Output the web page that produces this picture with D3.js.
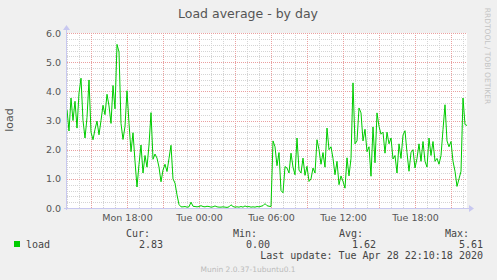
<!DOCTYPE html>
<html>
<head>
<meta charset="utf-8">
<script src="https://cdn.jsdelivr.net/npm/d3@7"></script>
<style>
  body { margin: 0; background: #f0f0f0; }
  svg { display: block; }
  text { font-family: "DejaVu Sans", sans-serif; }
  .mono { font-family: "DejaVu Sans Mono", monospace; }
</style>
</head>
<body>
<div id="viz"></div>
<script>
// ===== data (load average, one value every 10 minutes) =====
const startTime = new Date(2020, 3, 27, 13, 0);
const stepMinutes = 10;
const loadValues = [
  3.37, 2.64, 3.77, 3.0, 3.66, 2.74, 3.94, 4.45, 3.0, 2.4,
  3.1, 4.39, 2.6, 2.34, 2.7, 2.98, 2.51, 3.0, 3.52, 3.2,
  3.9, 3.5, 2.9, 4.2, 3.4, 5.61, 5.35, 2.9, 2.35, 2.8,
  4.02, 2.9, 1.93, 2.58, 1.6, 0.72, 1.5, 2.16, 1.2, 1.8,
  1.4, 2.16, 3.27, 1.67, 1.85, 1.71, 1.4, 0.9, 1.3, 1.5,
  1.25, 1.7, 2.15, 1.0, 0.85, 0.45, 0.12, 0.04, 0.04, 0.05,
  0.03, 0.04, 0.2, 0.06, 0.05, 0.04, 0.05, 0.08, 0.05, 0.04,
  0.06, 0.05, 0.03, 0.04, 0.07, 0.04, 0.03, 0.03, 0.04, 0.03,
  0.02, 0.04, 0.11, 0.05, 0.03, 0.04, 0.03, 0.05, 0.03, 0.07,
  0.04, 0.05, 0.03, 0.04, 0.03, 0.05, 0.04, 0.06, 0.08, 0.15,
  0.08, 0.06, 0.05, 2.3, 2.1, 1.45, 1.9, 0.6, 0.52, 1.42,
  1.37, 1.2, 1.88, 1.4, 1.14, 2.4, 1.3, 1.2, 1.71, 1.12,
  1.43, 0.91, 1.0, 1.37, 1.2, 2.34, 2.0, 1.5, 1.9, 1.4,
  2.74, 2.0, 2.1, 1.7, 1.14, 1.6, 0.8, 1.1, 0.91, 0.68,
  1.72, 1.1, 1.7, 4.29, 2.2, 2.3, 3.43, 3.26, 2.3, 2.7,
  1.93, 2.1, 1.09, 2.78, 1.55, 3.26, 2.8, 2.53, 2.6, 1.88,
  2.6, 2.2, 2.4, 1.68, 1.8, 1.2, 2.2, 1.7, 2.5, 2.65,
  1.9, 1.26, 1.9, 2.0, 1.37, 1.7, 2.2, 1.6, 2.28, 1.6,
  1.4, 2.4, 1.8, 2.28, 1.6, 1.7, 1.5, 1.8, 2.69, 3.54,
  2.3, 2.1, 2.28, 1.6, 1.26, 0.74, 1.0, 1.26, 3.77, 2.86,
  2.83
];
const yTicks = [0, 1, 2, 3, 4, 5, 6];
const legendHeads = ['Cur:', 'Min:', 'Avg:', 'Max:'];
const legendValues = ['2.83', '0.00', '1.62', '5.61'];
const lastUpdate = 'Last update: Tue Apr 28 22:10:18 2020';

const data = loadValues.map((v, i) => ({
  t: new Date(startTime.getTime() + i * stepMinutes * 60000),
  v: v
}));

// ===== dimensions =====
const width = 497;
const height = 280;
const plot = {left: 67, right: 467, top: 33, bottom: 208};

const svg = d3.select('#viz')
  .append('svg')
    .attr('width', width)
    .attr('height', height);

svg.append('rect')
  .attr('width', width).attr('height', height)
  .attr('fill', '#f0f0f0');

// ===== scales =====
const endTime = data[data.length - 1].t;
const xScale = d3.scaleTime()
  .domain([startTime, endTime])
  .range([plot.left, plot.right]);

const yScale = d3.scaleLinear()
  .domain([0, 6])
  .range([plot.bottom, plot.top]);

// canvas
svg.append('rect')
  .attr('x', plot.left).attr('y', plot.top)
  .attr('width', plot.right - plot.left)
  .attr('height', plot.bottom - plot.top)
  .attr('fill', '#ffffff');

// ===== grid =====
const grid = svg.append('g').attr('shape-rendering', 'crispEdges');
const px = v => Math.round(v) + 0.5;

const minorY = d3.range(0, 6.01, 0.2).filter(v => Math.abs(v - Math.round(v)) > 0.01);
grid.selectAll('.ymin').data(minorY).join('line')
  .attr('x1', plot.left).attr('x2', plot.right)
  .attr('y1', d => px(yScale(d))).attr('y2', d => px(yScale(d)))
  .attr('stroke', '#d4d4d4').attr('stroke-dasharray', '1,1');

const hours = d3.timeHour.every(1).range(startTime, endTime);
grid.selectAll('.xmin').data(hours.filter(d => d.getHours() % 3 !== 0)).join('line')
  .attr('x1', d => px(xScale(d))).attr('x2', d => px(xScale(d)))
  .attr('y1', plot.top).attr('y2', plot.bottom)
  .attr('stroke', '#d4d4d4').attr('stroke-dasharray', '1,1');

grid.selectAll('.ymaj').data(yTicks.slice(1)).join('line')
  .attr('x1', plot.left).attr('x2', plot.right)
  .attr('y1', d => px(yScale(d))).attr('y2', d => px(yScale(d)))
  .attr('stroke', '#eaa0a0').attr('stroke-dasharray', '1,1');

grid.selectAll('.xmaj').data(hours.filter(d => d.getHours() % 3 === 0)).join('line')
  .attr('x1', d => px(xScale(d))).attr('x2', d => px(xScale(d)))
  .attr('y1', plot.top).attr('y2', plot.bottom)
  .attr('stroke', '#eaa0a0').attr('stroke-dasharray', '1,1');

// ===== line =====
const line = d3.line()
  .x(d => xScale(d.t))
  .y(d => yScale(d.v));

svg.append('path')
  .datum(data)
  .attr('d', line)
  .attr('fill', 'none')
  .attr('stroke', '#00cc00')
  .attr('stroke-width', 1);

// ===== axes =====
const axisColor = '#c8c8f0';
svg.append('line')
  .attr('x1', plot.left - 0.5).attr('x2', plot.left - 0.5)
  .attr('y1', plot.bottom + 2).attr('y2', plot.top - 4)
  .attr('stroke', axisColor);
svg.append('path')
  .attr('d', `M${plot.left - 4},${plot.top - 3} L${plot.left - 0.5},${plot.top - 8} L${plot.left + 3},${plot.top - 3} Z`)
  .attr('fill', axisColor);
svg.append('line')
  .attr('x1', plot.left - 3).attr('x2', plot.right + 4)
  .attr('y1', plot.bottom + 0.5).attr('y2', plot.bottom + 0.5)
  .attr('stroke', axisColor);
svg.append('path')
  .attr('d', `M${plot.right + 2},${plot.bottom - 3} L${plot.right + 7},${plot.bottom + 0.5} L${plot.right + 2},${plot.bottom + 4} Z`)
  .attr('fill', axisColor);

const yAxis = d3.axisLeft(yScale)
  .tickValues(yTicks)
  .tickFormat(d3.format('.1f'))
  .tickSize(0)
  .tickPadding(6);
svg.append('g')
  .attr('transform', `translate(${plot.left},0)`)
  .call(yAxis)
  .call(g => g.select('.domain').remove())
  .call(g => g.selectAll('text')
    .attr('fill', '#555').attr('font-size', '9.5px')
    .attr('font-family', '"DejaVu Sans", sans-serif'));

const labelTimes = hours.filter(d => d.getHours() % 6 === 0);
const xAxis = d3.axisBottom(xScale)
  .tickValues(labelTimes)
  .tickFormat(d3.timeFormat('%a %H:%M'))
  .tickSize(0)
  .tickPadding(6);
svg.append('g')
  .attr('transform', `translate(0,${plot.bottom})`)
  .call(xAxis)
  .call(g => g.select('.domain').remove())
  .call(g => g.selectAll('text')
    .attr('fill', '#555').attr('font-size', '9.5px')
    .attr('font-family', '"DejaVu Sans", sans-serif'));

// ===== titles =====
svg.append('text')
  .attr('x', 248).attr('y', 18)
  .attr('text-anchor', 'middle')
  .attr('font-size', '12.5px')
  .attr('fill', '#555')
  .text('Load average - by day');

svg.append('text')
  .attr('transform', 'translate(13,120) rotate(-90)')
  .attr('text-anchor', 'middle')
  .attr('font-size', '11px')
  .attr('fill', '#555')
  .text('load');

svg.append('text')
  .attr('transform', 'translate(485,56) rotate(90)')
  .attr('text-anchor', 'middle')
  .attr('font-size', '7.5px')
  .attr('fill', '#c4c4c4')
  .text('RRDTOOL / TOBI OETIKER');

// ===== legend =====
const legendRight = [150, 257, 363, 469];
const valueRight = [163, 270, 376, 483];

svg.append('rect')
  .attr('x', 14).attr('y', 241).attr('width', 6).attr('height', 6)
  .attr('fill', '#00cc00');
svg.append('text').attr('class', 'mono')
  .attr('x', 26).attr('y', 248)
  .attr('font-size', '10px').attr('fill', '#444')
  .text('load');

svg.selectAll('.lhead').data(legendHeads).join('text')
  .attr('class', 'mono')
  .attr('x', (d, i) => legendRight[i]).attr('y', 237)
  .attr('text-anchor', 'end')
  .attr('font-size', '10px').attr('fill', '#444')
  .text(d => d);

svg.selectAll('.lval').data(legendValues).join('text')
  .attr('class', 'mono')
  .attr('x', (d, i) => valueRight[i]).attr('y', 248)
  .attr('text-anchor', 'end')
  .attr('font-size', '10px').attr('fill', '#444')
  .text(d => d);

svg.append('text').attr('class', 'mono')
  .attr('x', 483).attr('y', 259)
  .attr('text-anchor', 'end')
  .attr('font-size', '10px').attr('fill', '#444')
  .text(lastUpdate);

svg.append('text')
  .attr('x', 248).attr('y', 272)
  .attr('text-anchor', 'middle')
  .attr('font-size', '7.5px').attr('fill', '#bbb')
  .text('Munin 2.0.37-1ubuntu0.1');
</script>
</body>
</html>
